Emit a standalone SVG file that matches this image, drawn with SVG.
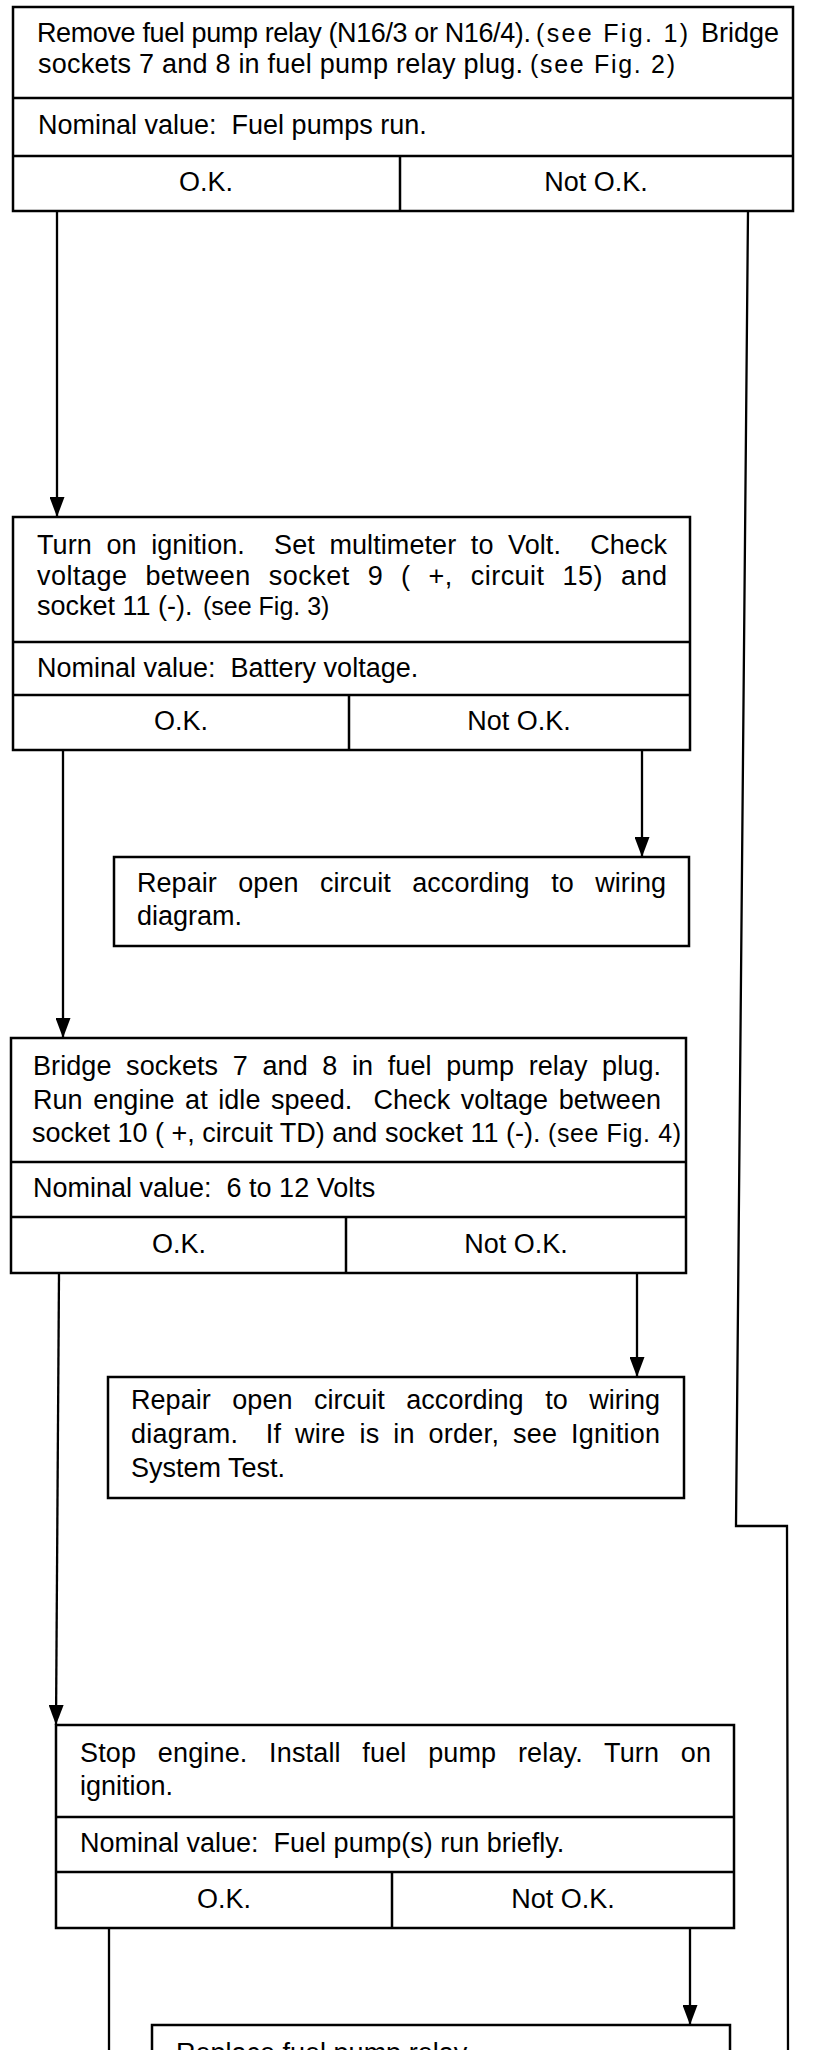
<svg xmlns="http://www.w3.org/2000/svg" width="832" height="2050" viewBox="0 0 832 2050">
<style>
rect.box{fill:#fff;stroke:#000;stroke-width:2.5}
line.sep{stroke:#000;stroke-width:2.5}
.con{fill:none;stroke:#000;stroke-width:2.3}
text{font-family:"Liberation Sans",Arial,Helvetica,sans-serif;font-size:27px;fill:#000}
text.s{font-size:25px}
text.c{text-anchor:middle}
</style>
<defs>
<marker id="ah" markerUnits="userSpaceOnUse" markerWidth="20" markerHeight="15" viewBox="0 0 20 15" refX="20" refY="7.5" orient="auto">
<path d="M0,0 L20,7.5 L0,15 z" fill="#000"/>
</marker>
</defs>
<rect width="832" height="2050" fill="#fff"/>
<g id="connectors">
<polyline class="con" points="57,211 57,517" marker-end="url(#ah)"/>
<polyline class="con" points="748,211 736,1526 787,1526 788,2050"/>
<polyline class="con" points="63,750 63,1038" marker-end="url(#ah)"/>
<polyline class="con" points="642,750 642,857" marker-end="url(#ah)"/>
<polyline class="con" points="59,1273 56,1725" marker-end="url(#ah)"/>
<polyline class="con" points="637,1273 637,1377" marker-end="url(#ah)"/>
<polyline class="con" points="109,1928 109,2050"/>
<polyline class="con" points="690,1928 690,2025" marker-end="url(#ah)"/>
</g>
<g id="step1">
<rect class="box" x="13" y="7" width="780" height="204"/>
<line class="sep" x1="13" y1="98" x2="793" y2="98"/>
<line class="sep" x1="13" y1="156" x2="793" y2="156"/>
<line class="sep" x1="400" y1="156" x2="400" y2="211"/>
<text x="37" y="42" textLength="494" lengthAdjust="spacing">Remove fuel pump relay (N16/3 or N16/4).</text>
<text class="s" x="536" y="42" textLength="152" lengthAdjust="spacing">(see Fig. 1)</text>
<text x="701" y="42">Bridge</text>
<text x="38" y="73" textLength="485" lengthAdjust="spacing">sockets 7 and 8 in fuel pump relay plug.</text>
<text class="s" x="530" y="73" textLength="145" lengthAdjust="spacing">(see Fig. 2)</text>
<text x="38" y="134" xml:space="preserve">Nominal value:  Fuel pumps run.</text>
<text class="c" x="206" y="191">O.K.</text>
<text class="c" x="596" y="191">Not O.K.</text>
</g>
<g id="step2">
<rect class="box" x="13" y="517" width="677" height="233"/>
<line class="sep" x1="13" y1="642" x2="690" y2="642"/>
<line class="sep" x1="13" y1="695" x2="690" y2="695"/>
<line class="sep" x1="349" y1="695" x2="349" y2="750"/>
<text x="37" y="554" xml:space="preserve" style="word-spacing:7px" textLength="630" lengthAdjust="spacing">Turn on ignition.  Set multimeter to Volt.  Check</text>
<text x="37" y="585" style="word-spacing:10px" textLength="630" lengthAdjust="spacing">voltage between socket 9 ( +, circuit 15) and</text>
<text x="37" y="615">socket 11 (-).</text>
<text class="s" x="203" y="615">(see Fig. 3)</text>
<text x="37" y="677" xml:space="preserve">Nominal value:  Battery voltage.</text>
<text class="c" x="181" y="730">O.K.</text>
<text class="c" x="519" y="730">Not O.K.</text>
</g>
<g id="repair1">
<rect class="box" x="114" y="857" width="575" height="89"/>
<text x="137" y="892" style="word-spacing:14px" textLength="529" lengthAdjust="spacing">Repair open circuit according to wiring</text>
<text x="137" y="925">diagram.</text>
</g>
<g id="step3">
<rect class="box" x="11" y="1038" width="675" height="235"/>
<line class="sep" x1="11" y1="1162" x2="686" y2="1162"/>
<line class="sep" x1="11" y1="1217" x2="686" y2="1217"/>
<line class="sep" x1="346" y1="1217" x2="346" y2="1273"/>
<text x="33" y="1075" style="word-spacing:7px" textLength="628" lengthAdjust="spacing">Bridge sockets 7 and 8 in fuel pump relay plug.</text>
<text x="33" y="1109" xml:space="preserve" style="word-spacing:3px" textLength="628" lengthAdjust="spacing">Run engine at idle speed.  Check voltage between</text>
<text x="32" y="1142">socket 10 ( +, circuit TD) and socket 11 (-).</text>
<text class="s" x="548" y="1142" textLength="133" lengthAdjust="spacing">(see Fig. 4)</text>
<text x="33" y="1197" xml:space="preserve">Nominal value:  6 to 12 Volts</text>
<text class="c" x="179" y="1253">O.K.</text>
<text class="c" x="516" y="1253">Not O.K.</text>
</g>
<g id="repair2">
<rect class="box" x="108" y="1377" width="576" height="121"/>
<text x="131" y="1409" style="word-spacing:14px" textLength="529" lengthAdjust="spacing">Repair open circuit according to wiring</text>
<text x="131" y="1443" xml:space="preserve" style="word-spacing:6px" textLength="529" lengthAdjust="spacing">diagram.  If wire is in order, see Ignition</text>
<text x="131" y="1477">System Test.</text>
</g>
<g id="step4">
<rect class="box" x="56" y="1725" width="678" height="203"/>
<line class="sep" x1="56" y1="1817" x2="734" y2="1817"/>
<line class="sep" x1="56" y1="1872" x2="734" y2="1872"/>
<line class="sep" x1="392" y1="1872" x2="392" y2="1928"/>
<text x="80" y="1762" style="word-spacing:14px" textLength="631" lengthAdjust="spacing">Stop engine. Install fuel pump relay. Turn on</text>
<text x="80" y="1795">ignition.</text>
<text x="80" y="1852" xml:space="preserve">Nominal value:  Fuel pump(s) run briefly.</text>
<text class="c" x="224" y="1908">O.K.</text>
<text class="c" x="563" y="1908">Not O.K.</text>
</g>
<g id="replace">
<rect class="box" x="152" y="2025" width="578" height="60"/>
<text x="176" y="2062">Replace fuel pump relay.</text>
</g>
</svg>
